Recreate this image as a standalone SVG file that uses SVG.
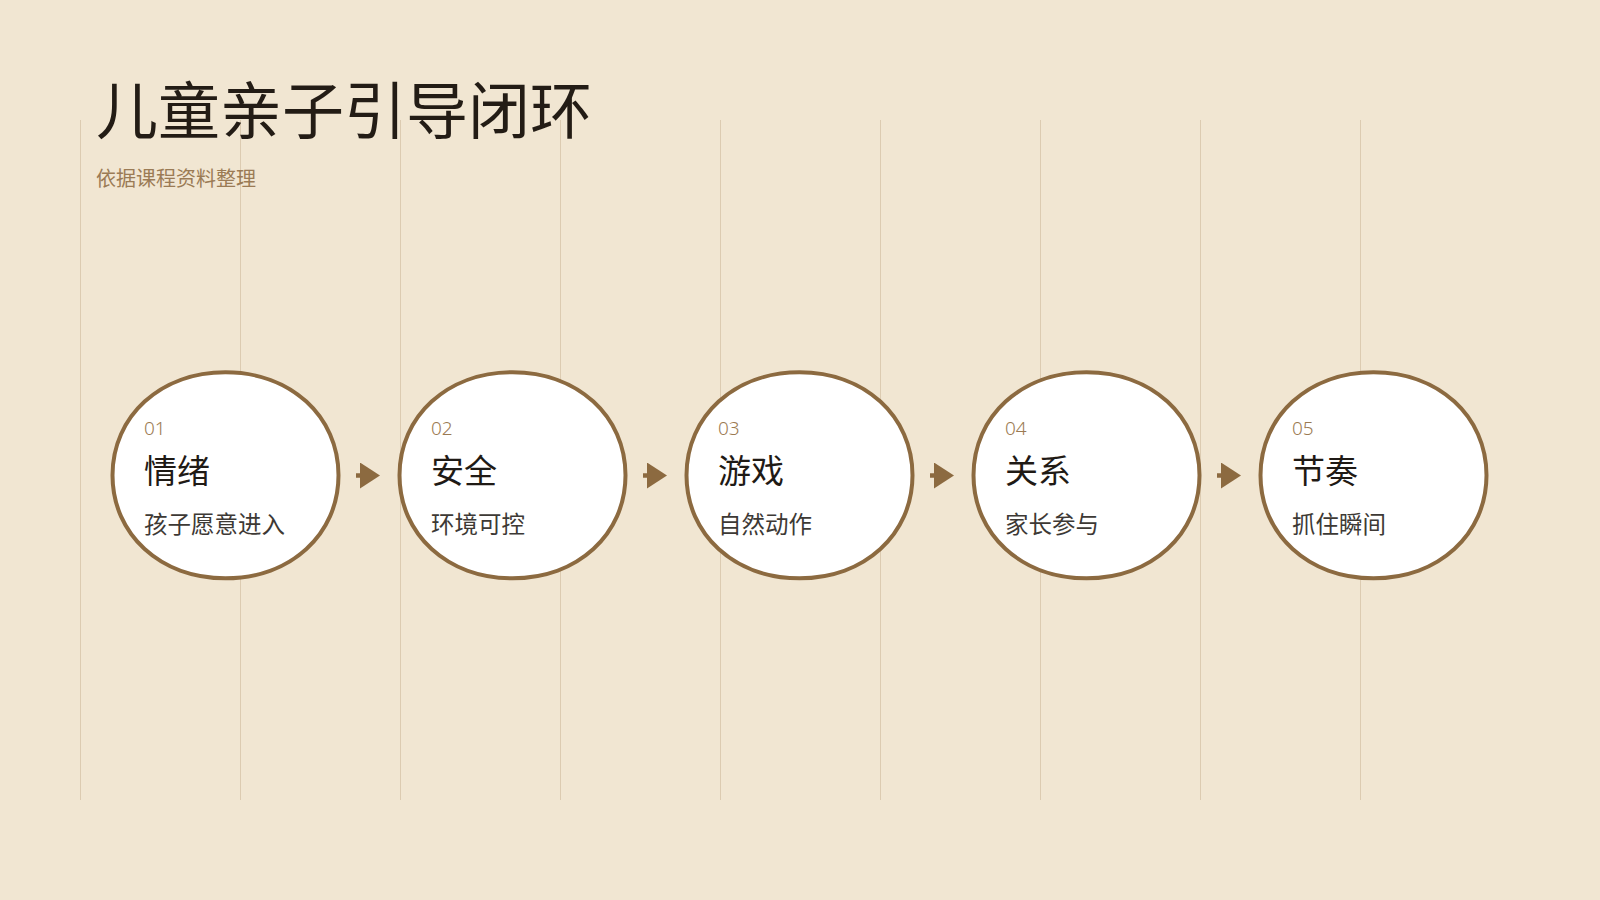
<svg xmlns="http://www.w3.org/2000/svg" width="1600" height="900" viewBox="0 0 1600 900">
  <defs>
    <style>
      .grid { stroke: #dccbb1; stroke-width: 1; }
      .node { fill: #ffffff; stroke: #8c6a40; stroke-width: 4; }
      .num { font-family: "Noto Sans", "Liberation Sans", sans-serif; font-size: 19px; font-weight: 300; fill: #9b7a52; }
      .ttl { font-family: "Noto Sans CJK SC", "Noto Sans", sans-serif; font-size: 33px; fill: #1f1a15; }
      .sub { font-family: "Noto Sans CJK SC", "Noto Sans", sans-serif; font-size: 23.5px; fill: #3d3935; }
      .conn { stroke: #8c6a40; stroke-width: 4.5; fill: none; }
    </style>
    <marker id="tri" markerUnits="userSpaceOnUse" markerWidth="20" markerHeight="26" refX="5" refY="13" orient="auto" viewBox="0 0 20 26">
      <path d="M0,0 L20,13 L0,26 Z" fill="#8c6a40"/>
    </marker>
  </defs>
  <rect x="0" y="0" width="1600" height="900" fill="#f1e6d2"/>
  <g id="grid">
    <line class="grid" x1="80.5" y1="120" x2="80.5" y2="800"/>
    <line class="grid" x1="240.5" y1="120" x2="240.5" y2="800"/>
    <line class="grid" x1="400.5" y1="120" x2="400.5" y2="800"/>
    <line class="grid" x1="560.5" y1="120" x2="560.5" y2="800"/>
    <line class="grid" x1="720.5" y1="120" x2="720.5" y2="800"/>
    <line class="grid" x1="880.5" y1="120" x2="880.5" y2="800"/>
    <line class="grid" x1="1040.5" y1="120" x2="1040.5" y2="800"/>
    <line class="grid" x1="1200.5" y1="120" x2="1200.5" y2="800"/>
    <line class="grid" x1="1360.5" y1="120" x2="1360.5" y2="800"/>
  </g>
  <g id="header">
    <text x="96" y="134" font-family="'Noto Sans CJK SC', 'Noto Sans', sans-serif" font-size="62" fill="#231c15">儿童亲子引导闭环</text>
    <text x="96" y="186" font-family="'Noto Sans CJK SC', 'Noto Sans', sans-serif" font-size="20" fill="#9b7b55">依据课程资料整理</text>
  </g>
  <g id="connectors">
    <line class="conn" x1="356" y1="475.5" x2="365" y2="475.5" marker-end="url(#tri)"/>
    <line class="conn" x1="643" y1="475.5" x2="652" y2="475.5" marker-end="url(#tri)"/>
    <line class="conn" x1="930" y1="475.5" x2="939" y2="475.5" marker-end="url(#tri)"/>
    <line class="conn" x1="1217" y1="475.5" x2="1226" y2="475.5" marker-end="url(#tri)"/>
  </g>
  <g id="node1">
    <path class="node" transform="translate(225.5,475.3)" d="M0,-103 C65,-103 113,-59.2 113,0 C113,59.2 65,103 0,103 C-65,103 -113,59.2 -113,0 C-113,-59.2 -65,-103 0,-103 Z"/>
    <text class="num" x="144" y="435">01</text>
    <text class="ttl" x="144" y="483">情绪</text>
    <text class="sub" x="144" y="533">孩子愿意进入</text>
  </g>
  <g id="node2">
    <path class="node" transform="translate(512.5,475.3)" d="M0,-103 C65,-103 113,-59.2 113,0 C113,59.2 65,103 0,103 C-65,103 -113,59.2 -113,0 C-113,-59.2 -65,-103 0,-103 Z"/>
    <text class="num" x="431" y="435">02</text>
    <text class="ttl" x="431" y="483">安全</text>
    <text class="sub" x="431" y="533">环境可控</text>
  </g>
  <g id="node3">
    <path class="node" transform="translate(799.5,475.3)" d="M0,-103 C65,-103 113,-59.2 113,0 C113,59.2 65,103 0,103 C-65,103 -113,59.2 -113,0 C-113,-59.2 -65,-103 0,-103 Z"/>
    <text class="num" x="718" y="435">03</text>
    <text class="ttl" x="718" y="483">游戏</text>
    <text class="sub" x="718" y="533">自然动作</text>
  </g>
  <g id="node4">
    <path class="node" transform="translate(1086.5,475.3)" d="M0,-103 C65,-103 113,-59.2 113,0 C113,59.2 65,103 0,103 C-65,103 -113,59.2 -113,0 C-113,-59.2 -65,-103 0,-103 Z"/>
    <text class="num" x="1005" y="435">04</text>
    <text class="ttl" x="1005" y="483">关系</text>
    <text class="sub" x="1005" y="533">家长参与</text>
  </g>
  <g id="node5">
    <path class="node" transform="translate(1373.5,475.3)" d="M0,-103 C65,-103 113,-59.2 113,0 C113,59.2 65,103 0,103 C-65,103 -113,59.2 -113,0 C-113,-59.2 -65,-103 0,-103 Z"/>
    <text class="num" x="1292" y="435">05</text>
    <text class="ttl" x="1292" y="483">节奏</text>
    <text class="sub" x="1292" y="533">抓住瞬间</text>
  </g>
</svg>
